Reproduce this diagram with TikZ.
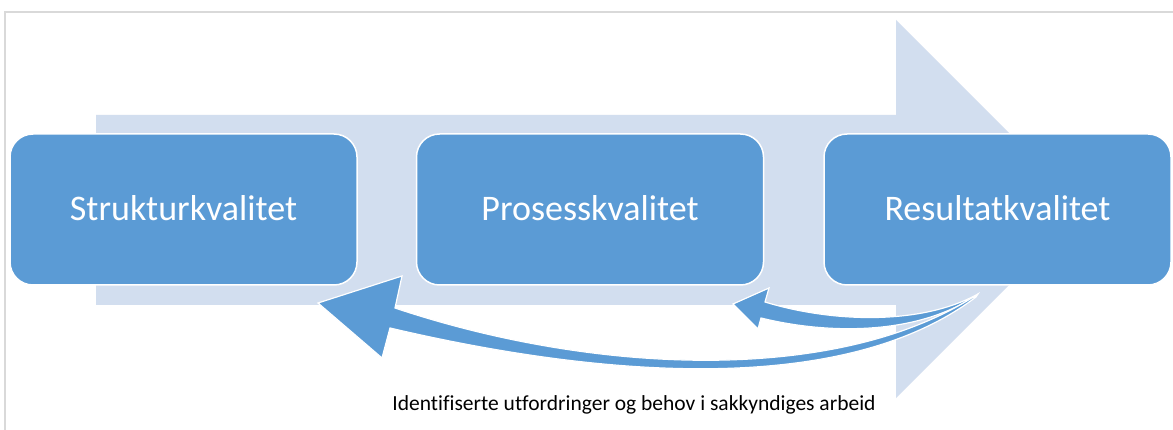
\documentclass[tikz,border=0pt]{standalone}
\usepackage{fontspec}
\setmainfont{Carlito}[Ligatures={NoCommon,NoRare}]
\definecolor{boxblue}{RGB}{91,155,213}
\definecolor{lightblue}{RGB}{210,222,239}
\definecolor{framegray}{RGB}{217,217,217}
\begin{document}
\begin{tikzpicture}[x=1pt,y=-1pt,
  qualbox/.style={draw=white, line width=1.5pt, fill=boxblue, rounded corners=23pt,
    minimum width=347pt, minimum height=151pt, inner sep=0pt, text=white,
    font=\fontsize{36}{43}\selectfont},
  boxlabel/.style={text=white, font=\fontsize{36}{43}\selectfont, anchor=base, inner sep=0pt},
  feedback/.style={fill=boxblue, draw=white, line width=1.2pt, line join=miter}]
\useasboundingbox (0,0) rectangle (1173,430);
\fill[white] (0,0) rectangle (1173,430);
% frame
\draw[framegray, line width=1.5pt] (5,432) -- (5,12) -- (1175,12);
% big background arrow
\fill[lightblue] (96,115) -- (896,115) -- (896,20) -- (1085,209) -- (896,398) -- (896,305) -- (96,305) -- cycle;
% boxes
\node[qualbox] (s) at (183.5,209.5) {};
\node[qualbox] (p) at (590,209.5) {};
\node[qualbox] (r) at (997.5,209.5) {};
\node[boxlabel] (st) at (183.5,221) {Strukturkvalitet};
\node[boxlabel] (pt) at (590,221) {Prosesskvalitet};
\node[boxlabel] (rt) at (997.5,221) {Resultatkvalitet};
% feedback arrows
\coordinate (tail) at (978,294);
\coordinate (tailb) at (976,297);
\draw[feedback] (733,304) -- (769,288) -- (765,302)
  .. controls (830,322) and (920,326) .. (tail)
  .. controls (920,335) and (830,335) .. (761,318)
  -- (758,329) -- cycle;
\draw[feedback] (318,303) -- (402,276) -- (395,308)
  .. controls (595,375) and (840,385) .. (tail)
  -- (tailb) .. controls (840,400) and (590,375) .. (390,328)
  -- (382,358) -- cycle;
% caption
\node[anchor=base, inner sep=0pt, font=\fontsize{21.5}{26}\selectfont] (cap) at (634,410) {Identifiserte utfordringer og behov i sakkyndiges arbeid};
\end{tikzpicture}
\end{document}
